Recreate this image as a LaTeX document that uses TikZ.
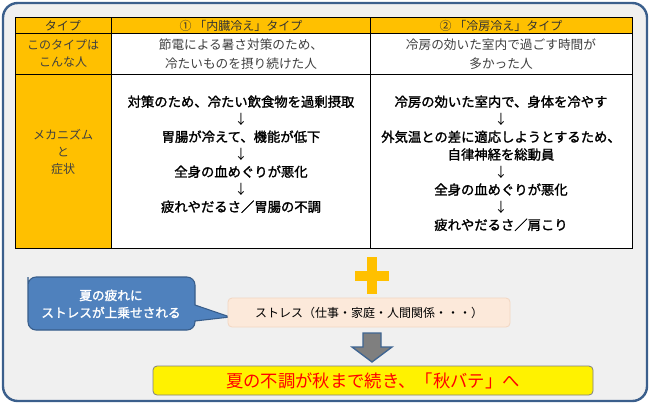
\documentclass[tikz,border=0pt]{standalone}
\usepackage{fontspec}
\newfontfamily\jp{Noto Sans CJK JP}
\newfontfamily\jpfb{Noto Sans CJK JP}[FakeBold=1.6]
\definecolor{orangec}{HTML}{FFC000}
\definecolor{framec}{HTML}{3B5F8C}
\definecolor{bgc}{HTML}{F0F0F0}
\definecolor{callfill}{HTML}{4F81BD}
\definecolor{calldraw}{HTML}{385D8A}
\definecolor{stressfill}{HTML}{FCE9DA}
\definecolor{stressdraw}{HTML}{F2D6C2}
\definecolor{hdrtext}{HTML}{333333}
\definecolor{graytext}{HTML}{404040}
\definecolor{arrowfill}{HTML}{7F7F7F}
\definecolor{arrowdraw}{HTML}{3F6592}
\begin{document}
\begin{tikzpicture}[x=0.75pt,y=-0.75pt,
  every node/.style={font=\jp, inner sep=0pt},
  frame/.style={draw=framec, line width=1.8pt, fill=bgc, rounded corners=11pt},
  grid/.style={draw=black, line width=0.6pt},
  hdr/.style={font=\jp\fontsize{9}{11}\selectfont, text=hdrtext},
  who/.style={font=\jp\fontsize{9.5}{14}\selectfont, text=graytext, align=center},
  lab/.style={font=\jp\fontsize{9}{13.2}\selectfont, text=graytext, align=center},
  mech/.style={font=\jpfb\fontsize{10}{13.2}\selectfont, text=black, align=center},
  darr/.style={font=\jp\fontsize{10}{12}\selectfont, text=black},
  callout/.style={fill=callfill, draw=calldraw, line width=0.8pt},
  stressbox/.style={fill=stressfill, draw=stressdraw, line width=0.6pt, rounded corners=3pt},
  resultbox/.style={fill=yellow, draw=gray, line width=0.6pt, rounded corners=3pt},
  blockarrow/.style={fill=arrowfill, draw=arrowdraw, line width=1pt},
]
\useasboundingbox (0,0) rectangle (650,405);
% outer frame
\draw[frame] (3,3) rectangle (647,401);
% table fills
\fill[orangec] (15,17) rectangle (632,33.5);
\fill[orangec] (15,33.5) rectangle (111.5,248);
\fill[white] (111.5,33.5) rectangle (632,248);
% grid
\draw[grid] (15,17) rectangle (632,248);
\draw[grid] (111.5,17) -- (111.5,248);
\draw[grid] (370,17) -- (370,248);
\draw[grid] (15,33.5) -- (632,33.5);
\draw[grid] (15,74) -- (632,74);
% header
\node[hdr] (h1) at (63,25.5) {タイプ};
\node[hdr] (h2) at (241,25.5) {①\ 「内臓冷え」タイプ};
\node[hdr] (h3) at (501,25.5) {②\ 「冷房冷え」タイプ};
% row 2
\node[lab] (r2a) at (63,53.5) {このタイプは\\こんな人};
\node[who] (r2b) at (241,54) {節電による暑さ対策のため、\\冷たいものを摂り続けた人};
\node[who] (r2c) at (501,54) {冷房の効いた室内で過ごす時間が\\多かった人};
% row 3 label
\node[lab, font=\jp\fontsize{9}{13}\selectfont] (r3a) at (63,152) {メカニズム\\と\\症状};
% row 3 col 2
\node[mech] (b1) at (241,101.7) {対策のため、冷たい飲食物を過剰摂取};
\node[darr] (b1a) at (241,119.2) {↓};
\node[mech] (b2) at (241,136.7) {胃腸が冷えて、機能が低下};
\node[darr] (b2a) at (241,154.2) {↓};
\node[mech] (b3) at (241,171.7) {全身の血めぐりが悪化};
\node[darr] (b3a) at (241,189.2) {↓};
\node[mech] (b4) at (241,206.7) {疲れやだるさ／胃腸の不調};
% row 3 col 3
\node[mech] (c1) at (501,101.7) {冷房の効いた室内で、身体を冷やす};
\node[darr] (c1a) at (501,119.3) {↓};
\node[mech] (c2) at (501,136.9) {外気温との差に適応しようとするため、};
\node[mech] (c3) at (501,154.5) {自律神経を総動員};
\node[darr] (c3a) at (501,172) {↓};
\node[mech] (c4) at (501,189.6) {全身の血めぐりが悪化};
\node[darr] (c4a) at (501,207.2) {↓};
\node[mech] (c5) at (501,224.8) {疲れやだるさ／肩こり};
% plus sign
\fill[orangec] (355,271) rectangle (389,281);
\fill[orangec] (367,257) rectangle (377,294);
% callout
\path[callout] (28,285) [rounded corners=6pt] -- (28,277) -- (195,277) [sharp corners] -- (195,305) -- (230,317) -- (195,321) [rounded corners=6pt] -- (195,330) -- (28,330) -- cycle;
\node[font=\jpfb\fontsize{9.5}{13}\selectfont, text=white, align=center] (call) at (111,304) {夏の疲れに\\ストレスが上乗せされる};
% stress box
\draw[stressbox] (228,298) rectangle (510,327);
\node[font=\jp\fontsize{9}{11}\selectfont, text=black] (stress) at (369,312.5) {ストレス（仕事・家庭・人間関係・・・）};
% block arrow
\draw[blockarrow] (363,333) -- (381,333) -- (381,347) -- (392,347) -- (372,362) -- (352,347) -- (363,347) -- cycle;
% result box
\draw[resultbox] (153,366) rectangle (593,395);
\node[font=\jp\fontsize{13}{15}\selectfont, text=red] (result) at (373,381) {夏の不調が秋まで続き、「秋バテ」へ};
\end{tikzpicture}
\end{document}
